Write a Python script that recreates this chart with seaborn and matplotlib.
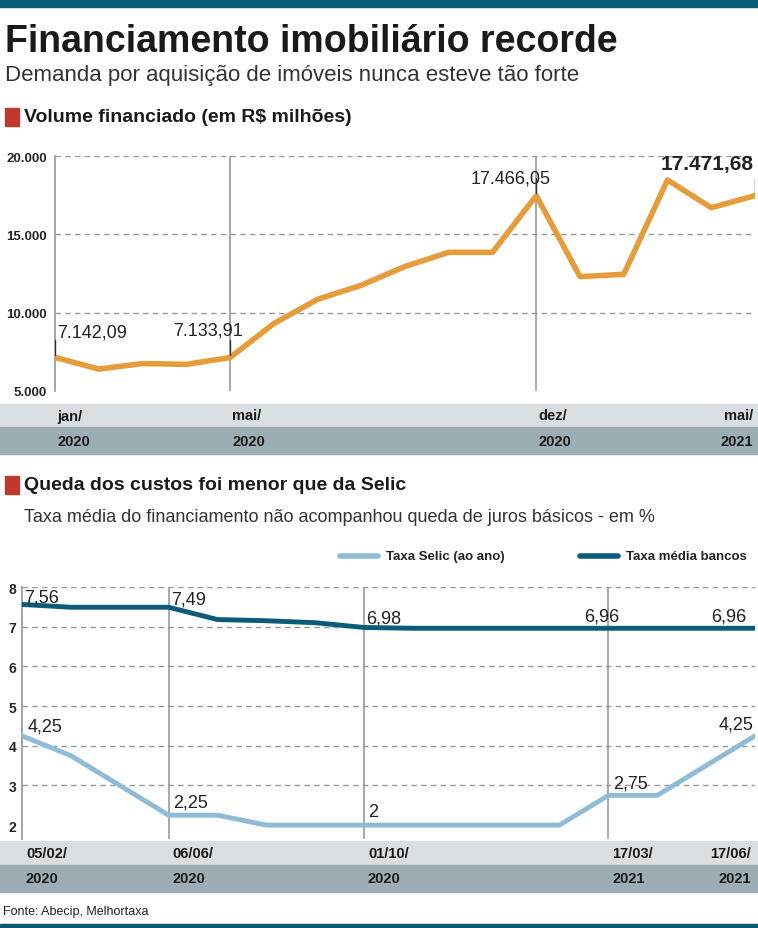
import matplotlib
matplotlib.use("Agg")
import matplotlib.pyplot as plt
import seaborn as sns
import pandas as pd
from matplotlib.patches import Rectangle

sns.set_theme(style="white")
plt.rcParams['font.family'] = ['Liberation Sans Narrow', 'Liberation Sans', 'DejaVu Sans']

W, H = 758, 929

# --- data -------------------------------------------------------------
months = list(range(17))  # jan/2020 .. mai/2021
volume = [7142.09, 6400, 6750, 6700, 7133.91, 9300, 10850, 11750, 12950,
          13850, 13850, 17466.05, 12300, 12450, 18470, 16700, 17471.68]
vol_ticks = [0, 4, 11, 16]
vol_tick_top = ["jan/", "mai/", "dez/", "mai/"]
vol_tick_bot = ["2020", "2020", "2020", "2021"]

meetings = list(range(16))
selic = [4.25, 3.75, 3.0, 2.25, 2.25, 2.0, 2.0, 2.0, 2.0, 2.0, 2.0, 2.0,
         2.75, 2.75, 3.5, 4.25]
bancos = [7.56, 7.49, 7.49, 7.49, 7.18, 7.15, 7.10, 6.98, 6.96, 6.96, 6.96,
          6.96, 6.96, 6.96, 6.96, 6.96]
rate_ticks = [0, 3, 7, 12, 15]
rate_tick_top = ["05/02/", "06/06/", "01/10/", "17/03/", "17/06/"]
rate_tick_bot = ["2020", "2020", "2020", "2021", "2021"]

ORANGE = "#E59C3A"
DARK = "#0A5B78"
LIGHT = "#8FBBD5"
BAND1 = "#D8DEE2"
BAND2 = "#9DADB4"
RED = "#C0392B"


def fy(py):
    return 1 - py / H


def fx(px):
    return px / W


fig = plt.figure(figsize=(W / 100, H / 100), dpi=100)
fig.patches.append(Rectangle((0, fy(8)), 1, 8 / H, transform=fig.transFigure, color=DARK))
fig.patches.append(Rectangle((0, fy(929)), 1, 4 / H, transform=fig.transFigure, color=DARK))

fig.text(fx(5), fy(42), "Financiamento imobiliário recorde", fontsize=27,
         fontweight="bold", va="center", color="#1a1a1a")
fig.text(fx(5), fy(76), "Demanda por aquisição de imóveis nunca esteve tão forte",
         fontsize=16, va="center", color="#333")
fig.patches.append(Rectangle((fx(5), fy(127)), 14 / W, 18 / H, transform=fig.transFigure, color=RED))
fig.text(fx(24), fy(118), "Volume financiado (em R$ milhões)", fontsize=14,
         fontweight="bold", va="center", color="#1a1a1a")


def bands(ax, ticks, top, bot, y1, y2, y3, ax_top, ax_bot, offset):
    # y1..y3 pixel rows of the two bands
    h = ax_bot - ax_top
    to_ax = lambda py: (ax_bot - py) / h
    ax.add_patch(Rectangle((-0.1, to_ax(y2)), 1.2, (y2 - y1) / h, transform=ax.transAxes,
                           color=BAND1, clip_on=False, zorder=0))
    ax.add_patch(Rectangle((-0.1, to_ax(y3)), 1.2, (y3 - y2) / h, transform=ax.transAxes,
                           color=BAND2, clip_on=False, zorder=0))
    tr = ax.get_xaxis_transform()
    n = len(ticks)
    for k, (t, a, b) in enumerate(zip(ticks, top, bot)):
        last = k == n - 1
        x = t - offset if last else t + offset
        ha = "right" if last else "left"
        ax.text(x, to_ax((y1 + y2) / 2), a, transform=tr, ha=ha, va="center",
                fontsize=10.5, fontweight="bold", color="#1a1a1a")
        ax.text(x, to_ax((y2 + y3) / 2), b, transform=tr, ha=ha, va="center",
                fontsize=10.5, fontweight="bold", color="#1a1a1a")


# --- top chart --------------------------------------------------------
ax1 = fig.add_axes([fx(55), fy(392), 700 / W, 235 / H])
df1 = pd.DataFrame({"m": months, "v": volume})
sns.lineplot(data=df1, x="m", y="v", ax=ax1, color=ORANGE, lw=4, zorder=3)
ax1.set_xlim(0, 16)
ax1.set_ylim(5000, 20000)
ax1.set_yticks([5000, 10000, 15000, 20000])
ax1.set_yticklabels(["5.000", "10.000", "15.000", "20.000"], fontsize=9.5, fontweight="bold")
ax1.tick_params(axis="y", length=0, pad=6)
ax1.set_xticks([])
ax1.set_xlabel("")
ax1.set_ylabel("")
for y in [10000, 15000, 20000]:
    ax1.axhline(y, color="#999", ls=(0, (4, 3)), lw=1)
for t in vol_ticks[1:3]:
    ax1.axvline(t, color="#999", lw=1.2)
for s in ["top", "right", "bottom"]:
    ax1.spines[s].set_visible(False)
ax1.spines["left"].set_color("#999")
bands(ax1, vol_ticks, vol_tick_top, vol_tick_bot, 405, 428, 455, 157, 392, 0.05)
for i, txt, dx, dy, fs, fw in [(0, "7.142,09", 0.05, 1600, 13, "normal"),
                               (4, "7.133,91", -1.3, 1750, 13, "normal"),
                               (11, "17.466,05", -1.5, 1100, 13, "normal"),
                               (16, "17.471,68", -2.15, 2050, 15, "bold")]:
    ax1.plot([i, i], [volume[i] + 150, volume[i] + 1100], color="#333", lw=1, zorder=4)
    ax1.text(i + dx, volume[i] + dy, txt, fontsize=fs, fontweight=fw, va="center", color="#222")

# --- bottom chart -----------------------------------------------------
fig.patches.append(Rectangle((fx(5), fy(495)), 14 / W, 18 / H, transform=fig.transFigure, color=RED))
fig.text(fx(24), fy(486), "Queda dos custos foi menor que da Selic", fontsize=14,
         fontweight="bold", va="center", color="#1a1a1a")
fig.text(fx(24), fy(518), "Taxa média do financiamento não acompanhou queda de juros básicos - em %",
         fontsize=13, va="center", color="#333")

ax2 = fig.add_axes([fx(22), fy(840), 733 / W, 252 / H])
df2 = pd.DataFrame({"m": meetings, "Taxa Selic (ao ano)": selic, "Taxa média bancos": bancos})
sns.lineplot(data=df2, x="m", y="Taxa Selic (ao ano)", ax=ax2, color=LIGHT, lw=3.5, zorder=3)
sns.lineplot(data=df2, x="m", y="Taxa média bancos", ax=ax2, color=DARK, lw=3.5, zorder=3)
ax2.set_xlim(0, 15)
ax2.set_ylim(1.65, 8.0)
ax2.set_yticks([2, 3, 4, 5, 6, 7, 8])
ax2.set_yticklabels([str(v) for v in [2, 3, 4, 5, 6, 7, 8]], fontsize=10, fontweight="bold")
ax2.tick_params(axis="y", length=0, pad=4)
ax2.set_xticks([])
ax2.set_xlabel("")
ax2.set_ylabel("")
for y in [3, 4, 5, 6, 7, 8]:
    ax2.axhline(y, color="#999", ls=(0, (4, 3)), lw=1)
for t in rate_ticks[1:4]:
    ax2.axvline(t, color="#999", lw=1.2)
for s in ["top", "right", "bottom"]:
    ax2.spines[s].set_visible(False)
ax2.spines["left"].set_color("#999")
bands(ax2, rate_ticks, rate_tick_top, rate_tick_bot, 842, 866, 893, 588, 840, 0.08)

for i, txt, dx, dy in [(0, "7,56", 0.05, 0.2), (3, "7,49", 0.05, 0.2), (7, "6,98", 0.05, 0.25),
                       (12, "6,96", -0.5, 0.3), (15, "6,96", -0.9, 0.3)]:
    ax2.text(i + dx, bancos[i] + dy, txt, fontsize=13, va="center", color="#222")
for i, txt, dx, dy in [(0, "4,25", 0.12, 0.25), (3, "2,25", 0.1, 0.32), (7, "2", 0.08, 0.35),
                       (12, "2,75", 0.1, 0.3), (15, "4,25", -0.75, 0.3)]:
    ax2.text(i + dx, selic[i] + dy, txt, fontsize=13, va="center", color="#222")

# legend
for x0, c, lab in [(340, LIGHT, "Taxa Selic (ao ano)"), (580, DARK, "Taxa média bancos")]:
    fig.add_artist(plt.Line2D([fx(x0), fx(x0 + 38)], [fy(557), fy(557)], color=c, lw=4))
    fig.text(fx(x0 + 46), fy(557), lab, fontsize=9.5, fontweight="bold", va="center", color="#222")

fig.text(fx(3), fy(912), "Fonte: Abecip, Melhortaxa", fontsize=9, va="center", color="#222")

fig.savefig("out.png", dpi=100)
